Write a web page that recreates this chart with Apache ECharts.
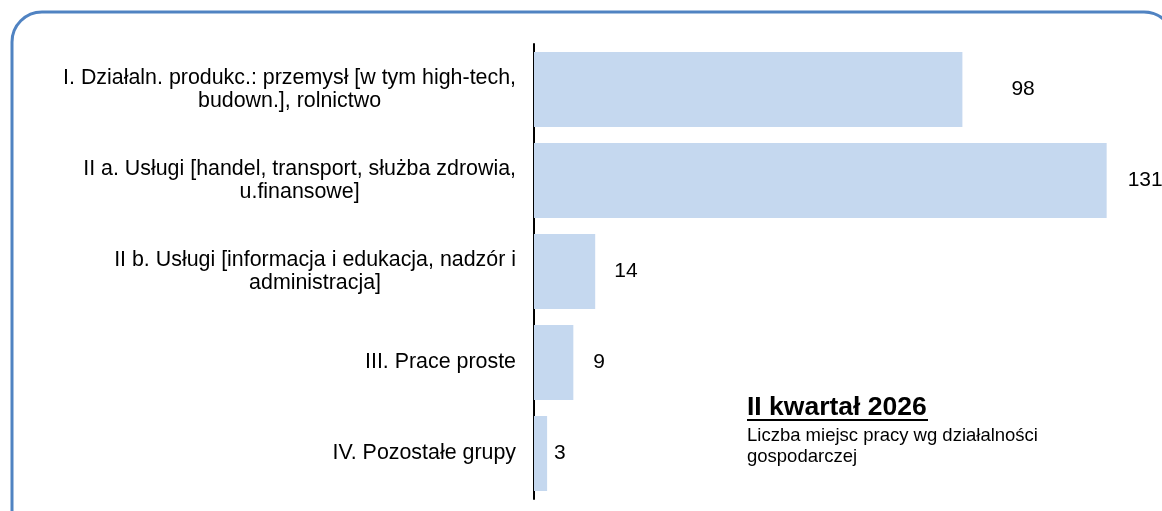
<!DOCTYPE html>
<html>
<head>
<meta charset="utf-8">
<script src="https://cdn.jsdelivr.net/npm/echarts@6.0.0/dist/echarts.min.js"></script>
<style>
  html, body { margin: 0; padding: 0; background: #fff; }
  #chart { width: 1162px; height: 511px; }
</style>
</head>
<body>
<div id="chart"></div>
<script>
  // categories (line breaks as in the original labels)
  const categories = [
    'I. Działaln. produkc.: przemysł [w tym high-tech,\nbudown.], rolnictwo',
    'II a. Usługi [handel, transport, służba zdrowia,\nu.finansowe]',
    'II b. Usługi [informacja i edukacja, nadzór i\nadministracja]',
    'III. Prace proste',
    'IV. Pozostałe grupy'
  ];
  const jobs = [98, 131, 14, 9, 3];

  const titleText = 'II kwartał 2026';
  const subText = 'Liczba miejsc pracy wg działalności\ngospodarczej';

  // label gaps as they sit in the source picture
  const labelGap = [49, 21, 19, 20, 7];

  const FONT = "'Liberation Sans', Arial, sans-serif";
  const BAR = '#C5D8EF';
  const FRAME = '#5083C2';

  const chart = echarts.init(document.getElementById('chart'), null, { renderer: 'canvas' });

  chart.setOption({
    backgroundColor: '#fff',
    animation: false,
    textStyle: { fontFamily: FONT },
    title: {
      text: titleText,
      subtext: subText,
      left: 747,
      top: 393,
      itemGap: 3,
      padding: 0,
      textStyle: { fontFamily: FONT, fontSize: 26.5, fontWeight: 'bold', color: '#000', lineHeight: 29 },
      subtextStyle: { fontFamily: FONT, fontSize: 18.5, color: '#000', lineHeight: 21 }
    },
    grid: { left: 534, top: 44, right: 16, bottom: 12 },
    xAxis: {
      type: 'value',
      min: 0,
      max: 140,
      show: false
    },
    yAxis: {
      type: 'category',
      inverse: true,
      data: categories,
      axisLine: { show: true, lineStyle: { color: '#000', width: 2 } },
      axisTick: { show: false },
      axisLabel: {
        margin: 18,
        formatter: v => v.split('\n').map(l => '{c|' + l + '}').join('\n'),
        rich: {
          c: { align: 'center', fontFamily: FONT, fontSize: 21.4, lineHeight: 23, color: '#000' }
        }
      }
    },
    series: [{
      type: 'bar',
      barWidth: 75,
      itemStyle: { color: BAR },
      data: jobs.map((v, i) => ({
        value: v,
        label: { distance: labelGap[i] }
      })),
      label: {
        show: true,
        position: 'right',
        fontFamily: FONT,
        fontSize: 21,
        color: '#000'
      }
    }],
    graphic: [
      {
        // rounded frame; its right side runs past the picture edge
        type: 'rect',
        shape: { x: 12, y: 12, width: 1162, height: 540, r: 30 },
        style: { fill: null, stroke: FRAME, lineWidth: 3 },
        silent: true,
        z: 10
      },
      {
        type: 'line',
        shape: { x1: 747, y1: 420, x2: 928, y2: 420 },
        style: { stroke: '#000', lineWidth: 2 },
        silent: true
      }
    ]
  });
</script>
</body>
</html>
